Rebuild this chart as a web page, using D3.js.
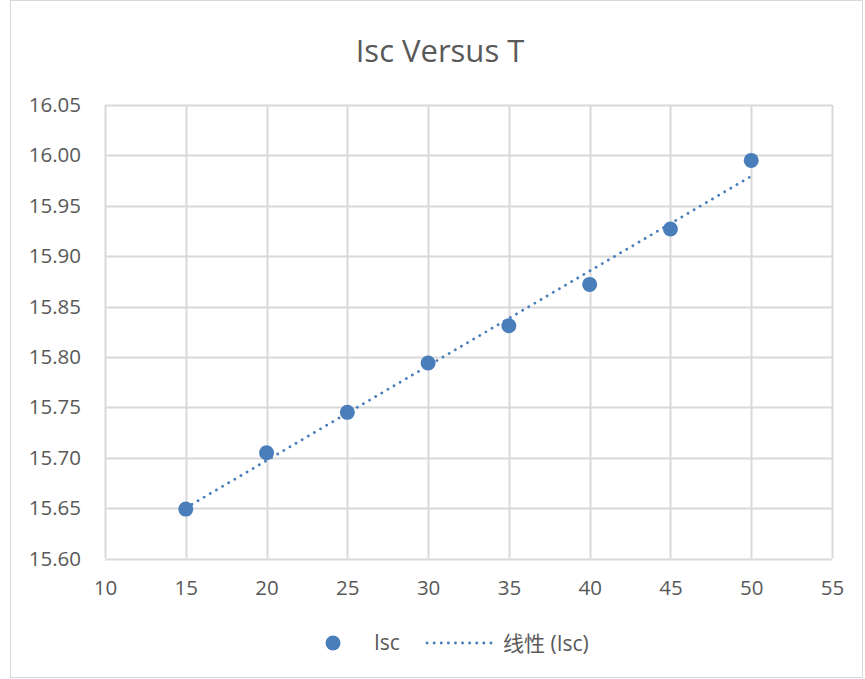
<!DOCTYPE html>
<html>
<head>
<meta charset="utf-8">
<script src="https://cdn.jsdelivr.net/npm/d3@7"></script>
<style>
  body { margin: 0; background: #fff; }
  text { font-family: "Open Sans", "Noto Sans CJK SC", sans-serif; fill: #595959; }
</style>
</head>
<body>
<svg id="chart" width="865" height="679"></svg>
<script>
// 数据
const temps = [15, 20, 25, 30, 35, 40, 45, 50];
const iscValues = [15.649, 15.705, 15.745, 15.794, 15.831, 15.872, 15.927, 15.995];
const xTicks = [10, 15, 20, 25, 30, 35, 40, 45, 50, 55];
const yTicks = [15.60, 15.65, 15.70, 15.75, 15.80, 15.85, 15.90, 15.95, 16.00, 16.05];

const color = '#4a7ebb';
const gridColor = '#d9d9d9';

const svg = d3.select('#chart');
const margin = { left: 105, right: 33, top: 105, bottom: 120 };
const W = 865, H = 679;

// 外框
svg.append('rect')
  .attr('x', 10.5).attr('y', 0.5)
  .attr('width', W - 13).attr('height', H - 2)
  .attr('fill', 'none').attr('stroke', gridColor);

const x = d3.scaleLinear().domain([10, 55]).range([margin.left, W - margin.right]);
const y = d3.scaleLinear().domain([15.60, 16.05]).range([H - margin.bottom - 0.5, margin.top]);

// 网格线
const grid = svg.append('g');
grid.selectAll('.vg').data(xTicks).enter().append('line')
  .attr('x1', (d) => Math.round(x(d)) + 0.5).attr('x2', (d) => Math.round(x(d)) + 0.5)
  .attr('y1', y(16.05)).attr('y2', y(15.60))
  .attr('stroke', gridColor).attr('stroke-width', 2);
grid.selectAll('.hg').data(yTicks).enter().append('line')
  .attr('x1', x(10)).attr('x2', x(55))
  .attr('y1', (d) => Math.round(y(d)) + 0.5).attr('y2', (d) => Math.round(y(d)) + 0.5)
  .attr('stroke', gridColor).attr('stroke-width', 2);

// 坐标轴标签
const xAxis = d3.axisBottom(x).tickValues(xTicks).tickSize(0).tickPadding(22).tickFormat(d3.format('d'));
const yAxis = d3.axisLeft(y).tickValues(yTicks).tickSize(0).tickPadding(24).tickFormat(d3.format('.2f'));

const gx = svg.append('g').attr('transform', `translate(0,${y(15.60)})`).call(xAxis);
const gy = svg.append('g').attr('transform', `translate(${x(10)},0)`).call(yAxis);
[gx, gy].forEach((g) => {
  g.select('.domain').remove();
  g.selectAll('text').style('font-size', '20.5px').attr('fill', '#595959');
});

// 趋势线（线性回归）
const mx = d3.mean(temps), my = d3.mean(iscValues);
const slope = d3.sum(temps, (t, i) => (t - mx) * (iscValues[i] - my)) / d3.sum(temps, (t) => (t - mx) ** 2);
const intercept = my - slope * mx;
const trend = [d3.min(temps), d3.max(temps)].map((t) => [t, intercept + slope * t]);

svg.append('path')
  .datum(trend)
  .attr('d', d3.line().x((d) => x(d[0])).y((d) => y(d[1])))
  .attr('fill', 'none').attr('stroke', color)
  .attr('stroke-width', 2.8).attr('stroke-linecap', 'round')
  .attr('stroke-dasharray', '0.1 7');

// 数据点
svg.selectAll('.pt').data(temps).enter().append('circle')
  .attr('class', 'pt')
  .attr('cx', (d) => x(d))
  .attr('cy', (d, i) => y(iscValues[i]))
  .attr('r', 7.5).attr('fill', color);

// 标题
svg.append('text')
  .attr('x', 440).attr('y', 62)
  .attr('text-anchor', 'middle')
  .style('font-size', '31px')
  .text('Isc Versus T');

// 图例
const legend = svg.append('g').attr('transform', 'translate(0,643)');
legend.append('circle').attr('cx', 333).attr('cy', 0).attr('r', 7.5).attr('fill', color);
legend.append('text').attr('x', 374).attr('y', 7).style('font-size', '21px').text('Isc');
legend.append('line')
  .attr('x1', 427).attr('x2', 496).attr('y1', 0).attr('y2', 0)
  .attr('stroke', color).attr('stroke-width', 2.8).attr('stroke-linecap', 'round')
  .attr('stroke-dasharray', '0.1 7');
legend.append('text').attr('x', 503).attr('y', 7.5).style('font-size', '21px').text('线性 (Isc)');
</script>
</body>
</html>
